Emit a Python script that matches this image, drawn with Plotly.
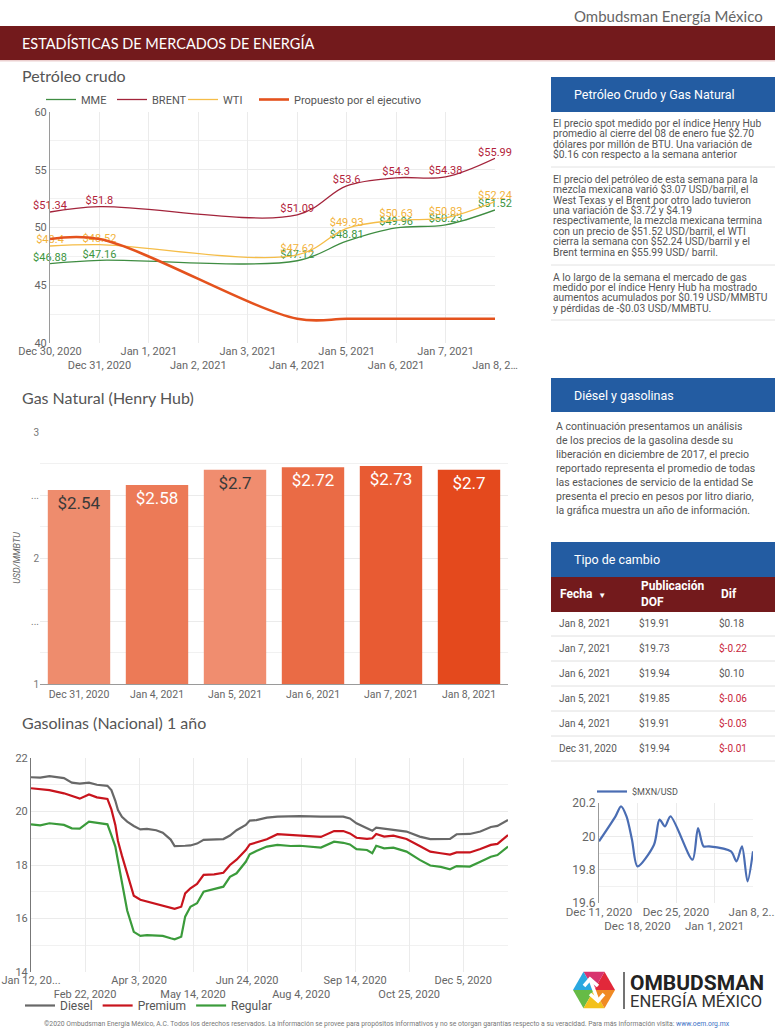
import plotly.graph_objects as go

W, H = 775, 1033


def px(x):
    return x / W


def py(y):
    return 1 - y / H


# ---------------- Petróleo crudo ----------------
petro_dates = ["2020-12-30", "2020-12-31", "2021-01-04", "2021-01-05",
               "2021-01-06", "2021-01-07", "2021-01-08"]
mme_values = [46.88, 47.16, 47.12, 48.81, 49.96, 50.23, 51.52]
brent_values = [51.34, 51.80, 51.09, 53.60, 54.30, 54.38, 55.99]
wti_values = [48.40, 48.52, 47.62, 49.93, 50.63, 50.83, 52.24]
propuesto_values = [49.0, 49.0, 42.1, 42.1, 42.1, 42.1, 42.1]
petro_tick_dates = ["2020-12-30", "2020-12-31", "2021-01-01", "2021-01-02", "2021-01-03",
                    "2021-01-04", "2021-01-05", "2021-01-06", "2021-01-07", "2021-01-08"]
petro_tick_labels = ["Dec 30, 2020", "Dec 31, 2020", "Jan 1, 2021", "Jan 2, 2021", "Jan 3, 2021",
                     "Jan 4, 2021", "Jan 5, 2021", "Jan 6, 2021", "Jan 7, 2021", "Jan 8, 2…"]

# ---------------- Gas natural (Henry Hub) ----------------
gas_dates = ["Dec 31, 2020", "Jan 4, 2021", "Jan 5, 2021", "Jan 6, 2021", "Jan 7, 2021", "Jan 8, 2021"]
gas_values = [2.54, 2.58, 2.70, 2.72, 2.73, 2.70]
gas_tick_vals = [1, 1.5, 2, 2.5, 3]
gas_tick_labels = ["1", "...", "2", "...", "3"]

# ---------------- Gasolinas (Nacional) ----------------
gasolina_dates = [
    "2020-01-12", "2020-01-19", "2020-01-26", "2020-02-06", "2020-02-12", "2020-02-18",
    "2020-02-25", "2020-03-02", "2020-03-10", "2020-03-13", "2020-03-16", "2020-03-18",
    "2020-03-21", "2020-03-25", "2020-03-30", "2020-04-04", "2020-04-09", "2020-04-16",
    "2020-04-21", "2020-04-27", "2020-04-30", "2020-05-05", "2020-05-08", "2020-05-12",
    "2020-05-17", "2020-05-22", "2020-05-30", "2020-06-06", "2020-06-11", "2020-06-16",
    "2020-06-23", "2020-06-26", "2020-07-01", "2020-07-09", "2020-07-17", "2020-07-27",
    "2020-08-03", "2020-08-19", "2020-08-29", "2020-09-05", "2020-09-10", "2020-09-15",
    "2020-09-23", "2020-09-27", "2020-09-30", "2020-10-06", "2020-10-13", "2020-10-23",
    "2020-11-02", "2020-11-10", "2020-11-18", "2020-11-25", "2020-11-30", "2020-12-10",
    "2020-12-18", "2020-12-26", "2020-12-31", "2021-01-08"]
diesel_values = [
    21.28, 21.27, 21.32, 21.25, 21.08, 21.04, 21.08, 21.00, 20.96, 20.80, 20.40, 20.05,
    19.80, 19.62, 19.46, 19.33, 19.35, 19.30, 19.21, 18.95, 18.71, 18.70, 18.72, 18.73,
    18.80, 18.94, 18.95, 18.97, 19.10, 19.30, 19.50, 19.66, 19.68, 19.77, 19.81, 19.82,
    19.83, 19.81, 19.82, 19.81, 19.74, 19.56, 19.37, 19.28, 19.40, 19.35, 19.31, 19.25,
    19.06, 18.97, 18.97, 18.98, 19.15, 19.16, 19.25, 19.42, 19.46, 19.68]
premium_values = [
    20.87, 20.84, 20.80, 20.68, 20.57, 20.48, 20.64, 20.53, 20.47, 20.08, 19.50, 18.90,
    18.35, 17.65, 16.85, 16.70, 16.63, 16.54, 16.48, 16.38, 16.36, 16.44, 16.94, 17.13,
    17.29, 17.63, 17.65, 17.71, 18.00, 18.20, 18.56, 18.77, 18.84, 18.96, 19.15, 19.12,
    19.10, 19.05, 19.27, 19.27, 19.18, 19.02, 18.98, 19.00, 19.16, 19.06, 19.10, 18.97,
    18.71, 18.50, 18.44, 18.39, 18.47, 18.47, 18.60, 18.75, 18.79, 19.12]
regular_values = [
    19.52, 19.48, 19.56, 19.50, 19.37, 19.36, 19.62, 19.58, 19.52, 19.12, 18.69, 18.15,
    17.40, 16.30, 15.50, 15.35, 15.38, 15.35, 15.35, 15.26, 15.22, 15.32, 16.07, 16.44,
    16.57, 17.00, 17.10, 17.19, 17.56, 17.69, 18.12, 18.40, 18.52, 18.69, 18.75, 18.71,
    18.72, 18.65, 18.87, 18.83, 18.77, 18.59, 18.56, 18.44, 18.72, 18.62, 18.65, 18.50,
    18.19, 17.98, 17.93, 17.84, 17.96, 17.94, 18.12, 18.31, 18.37, 18.69]
gasolina_tick_dates = ["2020-01-12", "2020-02-22", "2020-04-03", "2020-05-14", "2020-06-24",
                       "2020-08-04", "2020-09-14", "2020-10-25", "2020-12-05"]
gasolina_tick_labels = ["Jan 12, 20...", "Feb 22, 2020", "Apr 3, 2020", "May 14, 2020", "Jun 24, 2020",
                        "Aug 4, 2020", "Sep 14, 2020", "Oct 25, 2020", "Dec 5, 2020"]

# ---------------- Tipo de cambio ----------------
fx_dates = ["2020-12-11", "2020-12-14", "2020-12-15", "2020-12-16", "2020-12-17", "2020-12-18",
            "2020-12-21", "2020-12-22", "2020-12-23", "2020-12-24", "2020-12-28", "2020-12-29",
            "2020-12-30", "2020-12-31", "2021-01-04", "2021-01-05", "2021-01-06", "2021-01-07",
            "2021-01-08"]
fx_values = [19.97, 20.12, 20.18, 20.12, 19.98, 19.82, 19.95, 20.10, 20.06, 20.12, 19.86, 20.05,
             19.94, 19.94, 19.91, 19.85, 19.94, 19.73, 19.91]
fx_tick_dates = ["2020-12-11", "2020-12-18", "2020-12-25", "2021-01-01", "2021-01-08"]
fx_tick_labels = ["Dec 11, 2020", "Dec 18, 2020", "Dec 25, 2020", "Jan 1, 2021", "Jan 8, 2..."]

table_header = ["Fecha", "Publicación<br>DOF", "Dif"]
table_dates = ["Jan 8, 2021", "Jan 7, 2021", "Jan 6, 2021", "Jan 5, 2021", "Jan 4, 2021", "Dec 31, 2020"]
table_dof = [19.91, 19.73, 19.94, 19.85, 19.91, 19.94]
table_dif = [0.18, -0.22, 0.10, -0.06, -0.03, -0.01]

# ---------------- text ----------------
panel1_lines = [
    ["El precio spot medido por el índice Henry Hub",
     "promedio al cierre del 08 de enero fue $2.70",
     "dólares por millón de BTU. Una variación de",
     "$0.16 con respecto a la semana anterior"],
    ["El precio del petróleo de esta semana para la",
     "mezcla mexicana varió $3.07 USD/barril, el",
     "West Texas y el Brent por otro lado tuvieron",
     "una variación de $3.72 y $4.19",
     "respectivamente, la mezcla mexicana termina",
     "con un precio de $51.52 USD/barril, el WTI",
     "cierra la semana con $52.24 USD/barril y el",
     "Brent termina en $55.99 USD/ barril."],
    ["A lo largo de la semana el mercado de gas",
     "medido por el índice Henry Hub ha mostrado",
     "aumentos acumulados por $0.19 USD/MMBTU",
     "y pérdidas de -$0.03 USD/MMBTU."],
]
diesel_lines = [
    "A continuación presentamos un análisis",
    "de los precios de la gasolina desde su",
    "liberación en diciembre de 2017, el precio",
    "reportado representa el promedio de todas",
    "las estaciones de servicio de la entidad Se",
    "presenta el precio en pesos por litro diario,",
    "la gráfica muestra un año de información.",
]

FONT = "Roboto"
TITLE_FONT = "Lato"
GRID = "#ebebeb"
AXIS_LINE = "#9a9a9a"
TICK = dict(family=FONT, size=11, color="#666")


def stagger(labels):
    return [t if i % 2 == 0 else "<br>" + t for i, t in enumerate(labels)]


fig = go.Figure()

# ---- petroleum lines ----
petro_series = [
    ("MME", mme_values, "#3f8d42", "#3d963f", 1.3, True),
    ("BRENT", brent_values, "#a3243b", "#b3233a", 1.3, True),
    ("WTI", wti_values, "#f5bd48", "#f3b33c", 1.3, True),
    ("Propuesto por el ejecutivo", propuesto_values, "#e4521d", None, 2.6, False),
]
for name, vals, lc, tc, lw, lab in petro_series:
    fig.add_trace(go.Scatter(
        x=petro_dates, y=vals, name=name, xaxis="x", yaxis="y", legend="legend",
        mode="lines+text" if lab else "lines",
        text=[f"${v:g}" for v in vals] if lab else None,
        textposition="top center", textfont=dict(family=FONT, size=11, color=tc),
        line=dict(color=lc, width=lw, shape="spline", smoothing=1.0),
        legendwidth=None if lab else 170,
        cliponaxis=False, hoverinfo="skip"))

# ---- gas bars ----
gas_colors = ["#ee8c6d", "#ec7a57", "#f08d6f", "#ea6b45", "#e85b33", "#e4491d"]
gas_text_colors = ["#3a3a3a", "#ffffff", "#3a3a3a", "#ffffff", "#ffffff", "#ffffff"]
fig.add_trace(go.Bar(
    x=gas_dates, y=gas_values, xaxis="x2", yaxis="y2", showlegend=False,
    marker=dict(color=gas_colors, line=dict(width=0)),
    text=[f"${v:g}" for v in gas_values], textposition="inside", insidetextanchor="end",
    textangle=0, textfont=dict(family=FONT, size=17, color=gas_text_colors),
    cliponaxis=False, hoverinfo="skip"))

# ---- gasolinas ----
for name, vals, color in [("Diesel", diesel_values, "#686868"),
                          ("Premium", premium_values, "#c8141d"),
                          ("Regular", regular_values, "#3b9b3b")]:
    fig.add_trace(go.Scatter(
        x=gasolina_dates, y=vals, name=name, xaxis="x3", yaxis="y3", legend="legend2",
        mode="lines", line=dict(color=color, width=2.2), hoverinfo="skip"))

# ---- fx line ----
fig.add_trace(go.Scatter(
    x=fx_dates, y=fx_values, name="$MXN/USD", xaxis="x4", yaxis="y4", legend="legend3",
    mode="lines", line=dict(color="#4a6db3", width=2.2, shape="spline", smoothing=0.8),
    hoverinfo="skip"))

# ---- table (header row is filled here, its labels are drawn as annotations on top) ----
dif_text = [f"${d:.2f}" for d in table_dif]
dof_text = [f"${d:.2f}" for d in table_dof]
body_color = "#595959"
fig.add_trace(go.Table(
    domain=dict(x=[px(551), 1], y=[py(775), py(577)]),
    columnwidth=[80, 80, 64],
    header=dict(values=["", "", ""], fill_color="#731a1c", line_color="#731a1c", height=34,
                font=dict(family=FONT, size=10, color="white")),
    cells=dict(values=[table_dates, dof_text, dif_text],
               fill_color="white", line_color="white", align="left", height=25,
               font=dict(family=FONT, size=10,
                         color=[[body_color] * 6, [body_color] * 6,
                                ["#c8253a" if d < 0 else body_color for d in table_dif]])),
))

shapes = []
annotations = []

# header band
shapes.append(dict(type="rect", xref="paper", yref="paper", x0=0, x1=1, y0=py(60), y1=py(26),
                   fillcolor="#731a1c", line=dict(width=0), layer="below"))
shapes.append(dict(type="rect", xref="paper", yref="paper", x0=0, x1=1, y0=py(61.5), y1=py(60),
                   fillcolor="#ecd0d0", line=dict(width=0), layer="below"))
annotations.append(dict(text="Ombudsman Energía México", x=px(765), y=py(16), xanchor="right",
                        yanchor="middle", font=dict(family=TITLE_FONT, size=15, color="#666")))
annotations.append(dict(text="ESTADÍSTICAS DE MERCADOS DE ENERGÍA", x=px(20), y=py(43), xanchor="left",
                        yanchor="middle", font=dict(family=TITLE_FONT, size=14.5, color="white")))

# section titles
for t, y in [("Petróleo crudo", 76), ("Gas Natural (Henry Hub)", 397), ("Gasolinas (Nacional) 1 año", 722)]:
    annotations.append(dict(text=t, x=px(20), y=py(y), xanchor="left", yanchor="middle",
                            font=dict(family=TITLE_FONT, size=16, color="#555")))

# blue boxes
for t, y0, y1 in [("Petróleo Crudo y Gas Natural", 77, 112), ("Diésel y gasolinas", 378, 412),
                  ("Tipo de cambio", 542, 577)]:
    shapes.append(dict(type="rect", xref="paper", yref="paper", x0=px(551), x1=1, y0=py(y1), y1=py(y0),
                       fillcolor="#235ca2", line=dict(width=0), layer="below"))
    annotations.append(dict(text=t, x=px(572), y=py((y0 + y1) / 2), xanchor="left", yanchor="middle",
                            font=dict(family=FONT, size=12.5, color="white")))

# table header labels
header_x = [558, 639, 719]
for i, (t, hx) in enumerate(zip(table_header, header_x)):
    txt = f"<b>{t}</b>" + ("  <span style='font-size:8px'>▼</span>" if i == 0 else "")
    annotations.append(dict(text=txt, x=px(hx), y=py(594), xanchor="left", yanchor="middle", align="left",
                            font=dict(family=FONT, size=12, color="white")))

# panel 1 paragraphs
para_tops = [123, 179, 277]
for lines, y0 in zip(panel1_lines, para_tops):
    for i, line in enumerate(lines):
        annotations.append(dict(text=line, x=px(551), y=py(y0 + i * 10.5), xanchor="left",
                                yanchor="middle", font=dict(family=FONT, size=10.3, color="#555")))
for ys in [167, 265, 320]:
    shapes.append(dict(type="line", xref="paper", yref="paper", x0=px(551), x1=1, y0=py(ys), y1=py(ys),
                       line=dict(color="#e2e2e2", width=1)))

for i, line in enumerate(diesel_lines):
    annotations.append(dict(text=line, x=px(554), y=py(427 + i * 13.85), xanchor="left",
                            yanchor="middle", font=dict(family=FONT, size=10.5, color="#555")))

# table separators
for i in range(6):
    ys = 636 + i * 25
    shapes.append(dict(type="line", xref="paper", yref="paper", x0=px(551), x1=1, y0=py(ys), y1=py(ys),
                       line=dict(color="#e0e0e0", width=1), layer="above"))

# logo
cx, cy, r = 594, 990, 21
hh = r * 0.866
verts = [(cx + r, cy), (cx + r / 2, cy - hh), (cx - r / 2, cy - hh), (cx - r, cy),
         (cx - r / 2, cy + hh), (cx + r / 2, cy + hh)]
logo_colors = ["#e2283a", "#d8346f", "#2aa8e0", "#66bb46", "#f3c11b", "#f08a24"]
for i in range(6):
    a, b = verts[i], verts[(i + 1) % 6]
    path = (f"M {px(cx)} {py(cy)} L {px(a[0])} {py(a[1])} L {px(b[0])} {py(b[1])} Z")
    shapes.append(dict(type="path", xref="paper", yref="paper", path=path,
                       fillcolor=logo_colors[i], line=dict(width=0)))
for pts in [[(584, 986), (590, 979), (598, 986)], [(590, 994), (598, 1001), (604, 994)],
            [(590, 979), (598, 1001)]]:
    path = "M " + " L ".join(f"{px(x)} {py(y)}" for x, y in pts)
    shapes.append(dict(type="path", xref="paper", yref="paper", path=path,
                       line=dict(color="white", width=3.5)))
shapes.append(dict(type="line", xref="paper", yref="paper", x0=px(624), x1=px(624), y0=py(1009), y1=py(972),
                   line=dict(color="#444", width=1.5)))
annotations.append(dict(text="<b>OMBUDSMAN</b>", x=px(628), y=py(983), xanchor="left", yanchor="middle",
                        font=dict(family=FONT, size=21, color="#222")))
annotations.append(dict(text="ENERGÍA MÉXICO", x=px(628), y=py(1001), xanchor="left", yanchor="middle",
                        font=dict(family=FONT, size=16.5, color="#333")))

# footer
annotations.append(dict(
    text=("©2020 Ombudsman Energía México, A.C. Todos los derechos reservados. La información se provee "
          "para propósitos informativos y no se otorgan garantías respecto a su veracidad. Para más "
          "información visita: <a href='http://www.oem.org.mx' style='color:#3b6fc4'>www.oem.org.mx</a>"),
    x=px(387), y=py(1024), xanchor="center", yanchor="middle",
    font=dict(family=FONT, size=6.8, color="#777")))

for a in annotations:
    a.update(xref="paper", yref="paper", showarrow=False)

legend_common = dict(orientation="h", xanchor="left", yanchor="top", bgcolor="rgba(0,0,0,0)",
                     itemwidth=30, tracegroupgap=0)

fig.update_layout(
    width=W, height=H, margin=dict(l=0, r=0, t=0, b=0, autoexpand=False),
    paper_bgcolor="white", plot_bgcolor="white",
    font=dict(family=FONT, color="#555"),
    shapes=shapes, annotations=annotations,
    legend=dict(x=px(41), y=py(85), font=dict(family=FONT, size=11, color="#555"),
                entrywidth=26, entrywidthmode="pixels", **legend_common),
    legend2=dict(x=px(20), y=py(991), font=dict(family=FONT, size=12, color="#555"), **legend_common),
    legend3=dict(x=px(592), y=py(777), font=dict(family=FONT, size=9, color="#555"), **legend_common),
    # petroleum
    xaxis=dict(domain=[px(50), px(495)], anchor="y", type="date",
               range=[petro_tick_dates[0], petro_tick_dates[-1]],
               tickvals=petro_tick_dates, ticktext=stagger(petro_tick_labels), tickangle=0,
               showgrid=True, gridcolor=GRID, showline=False, zeroline=False, tickfont=TICK, ticks="",
               automargin=False),
    yaxis=dict(domain=[py(343), py(112)], anchor="x", range=[40, 60], dtick=5,
               showgrid=True, gridcolor=GRID, showline=True, linecolor=AXIS_LINE, zeroline=False,
               minor=dict(dtick=2.5, showgrid=True, gridcolor="#f1f1f1"), tickfont=TICK, ticks="",
               automargin=False),
    # gas
    xaxis2=dict(domain=[px(40), px(508)], anchor="y2", type="category", showgrid=False, tickangle=0,
                showline=True, linecolor=AXIS_LINE, tickfont=dict(family=FONT, size=10.5, color="#666"),
                ticks="", automargin=False),
    yaxis2=dict(domain=[py(684), py(432)], anchor="x2", range=[1, 3],
                tickvals=gas_tick_vals, ticktext=gas_tick_labels,
                showgrid=True, gridcolor=GRID, showline=False, zeroline=False,
                minor=dict(dtick=0.25, showgrid=True, gridcolor="#f1f1f1"),
                tickfont=dict(family=FONT, size=10, color="#777"), ticks="", automargin=False,
                title=dict(text="USD/MMBTU", standoff=8,
                           font=dict(family=FONT, size=9, color="#666", style="italic"))),
    # gasolinas
    xaxis3=dict(domain=[px(31), px(508)], anchor="y3", type="date",
                range=["2020-01-12", "2021-01-08"], tickangle=0,
                tickvals=gasolina_tick_dates, ticktext=stagger(gasolina_tick_labels),
                showgrid=True, gridcolor=GRID, showline=False, zeroline=False, tickfont=TICK, ticks="",
                automargin=False, ticklabeloverflow="allow"),
    yaxis3=dict(domain=[py(972), py(758)], anchor="x3", range=[14, 22], dtick=2,
                showgrid=True, gridcolor=GRID, showline=True, linecolor="#777", zeroline=False,
                minor=dict(dtick=1, showgrid=True, gridcolor="#f1f1f1"), tickfont=TICK, ticks="",
                automargin=False),
    # fx
    xaxis4=dict(domain=[px(599), px(753)], anchor="y4", type="date",
                range=["2020-12-11", "2021-01-08"], tickangle=0,
                tickvals=fx_tick_dates, ticktext=stagger(fx_tick_labels),
                showgrid=True, gridcolor=GRID, showline=False, zeroline=False,
                tickfont=dict(family=FONT, size=11.5, color="#666"), ticks="", automargin=False,
                ticklabeloverflow="allow"),
    yaxis4=dict(domain=[py(903), py(803)], anchor="x4", range=[19.6, 20.2], dtick=0.2,
                showgrid=True, gridcolor=GRID, showline=True, linecolor=AXIS_LINE, zeroline=False,
                minor=dict(dtick=0.1, showgrid=True, gridcolor="#f1f1f1"),
                tickfont=dict(family=FONT, size=12, color="#666"), ticks="", automargin=False),
)

fig.write_html("out.html", config={"displayModeBar": False},
               post_script="document.body.style.margin='0';document.body.style.overflow='hidden';")
